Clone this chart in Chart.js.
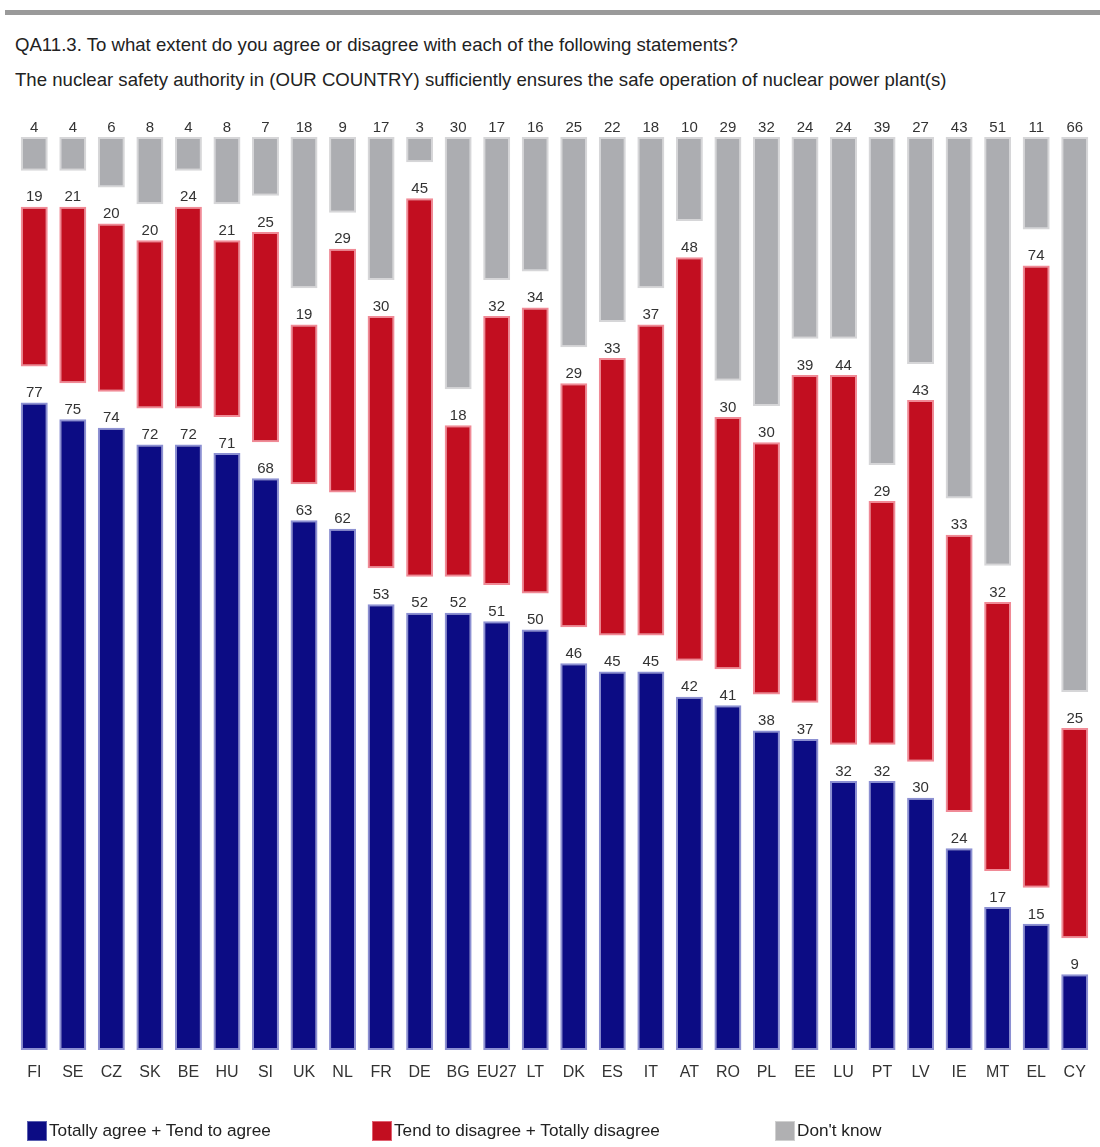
<!DOCTYPE html>
<html>
<head>
<meta charset="utf-8">
<script src="https://cdn.jsdelivr.net/npm/chart.js@4/dist/chart.umd.min.js"></script>
<style>
  html, body { margin: 0; padding: 0; background: #fff; }
  body { width: 1100px; height: 1147px; position: relative; overflow: hidden; font-family: "Liberation Sans", Arial, sans-serif; color: #222; }
  #topbar { position: absolute; left: 5px; top: 10px; width: 1095px; height: 5px; background: #9a9a9a; }
  .title { position: absolute; left: 15px; font-size: 18.6px; white-space: nowrap; line-height: 22px; }
  #t1 { top: 34px; }
  #t2 { top: 69px; }
  #wrap { position: absolute; left: 0; top: 0; width: 1100px; height: 1147px; }
  .leg { position: absolute; top: 1120px; font-size: 17.2px; white-space: nowrap; display: flex; align-items: center; color: #222; }
  .sw { width: 20px; height: 20px; margin-right: 2px; box-sizing: border-box; }
</style>
</head>
<body>
<div id="topbar"></div>
<div class="title" id="t1">QA11.3. To what extent do you agree or disagree with each of the following statements?</div>
<div class="title" id="t2">The nuclear safety authority in (OUR COUNTRY) sufficiently ensures the safe operation of nuclear power plant(s)</div>
<div id="wrap"><canvas id="c" width="1100" height="1147"></canvas></div>
<div class="leg" style="left:27px"><div class="sw" style="background:#0c0c84;border:1px solid #5a5fb0"></div>Totally agree + Tend to agree</div>
<div class="leg" style="left:372px"><div class="sw" style="background:#c20e20;border:1px solid #e06070"></div>Tend to disagree + Totally disagree</div>
<div class="leg" style="left:775px"><div class="sw" style="background:#b0b0b2;border:1px solid #d0d0d0"></div>Don't know</div>
<script>
const countries = ["FI","SE","CZ","SK","BE","HU","SI","UK","NL","FR","DE","BG","EU27","LT","DK","ES","IT","AT","RO","PL","EE","LU","PT","LV","IE","MT","EL","CY"];
const agree    = [77,75,74,72,72,71,68,63,62,53,52,52,51,50,46,45,45,42,41,38,37,32,32,30,24,17,15,9];
const disagree = [19,21,20,20,24,21,25,19,29,30,45,18,32,34,29,33,37,48,30,30,39,44,29,43,33,32,74,25];
const dontKnow = [4,4,6,8,4,8,7,18,9,17,3,30,17,16,25,22,18,10,29,32,24,24,39,27,43,51,11,66];
const seriesNames = ["Totally agree + Tend to agree","Tend to disagree + Totally disagree","Don't know"];

const GAP = 4.29;            // visual gap between segments, in value units
const TOP = 100 + 2 * GAP;   // axis maximum

const blueBars = agree.map(a => [0, a]);
const redBars  = agree.map((a, i) => [a + GAP, a + GAP + disagree[i]]);
const grayBars = dontKnow.map(k => [TOP - k, TOP]);
const rawValues = [agree, disagree, dontKnow];

const labelPlugin = {
  id: 'segLabels',
  afterDatasetsDraw(chart) {
    const ctx = chart.ctx;
    ctx.save();
    ctx.font = '15px "Liberation Sans", Arial, sans-serif';
    ctx.fillStyle = '#333';
    ctx.textAlign = 'center';
    ctx.textBaseline = 'bottom';
    chart.data.datasets.forEach((ds, di) => {
      const meta = chart.getDatasetMeta(di);
      meta.data.forEach((el, i) => {
        const top = Math.min(el.y, el.base);
        ctx.fillText(String(rawValues[di][i]), el.x, top - 2);
      });
    });
    ctx.restore();
  }
};

new Chart(document.getElementById('c'), {
  type: 'bar',
  data: {
    labels: countries,
    datasets: [
      { label: seriesNames[0], data: blueBars, backgroundColor: '#0c0c84', borderColor: '#8c90d2', borderWidth: 2, borderSkipped: false },
      { label: seriesNames[1], data: redBars,  backgroundColor: '#c20e20', borderColor: '#f08a96', borderWidth: 2, borderSkipped: false },
      { label: seriesNames[2], data: grayBars, backgroundColor: '#acadb1', borderColor: '#d6d6d8', borderWidth: 2, borderSkipped: false }
    ]
  },
  options: {
    responsive: false,
    animation: false,
    layout: { padding: { left: 15, right: 6, top: 137, bottom: 47 } },
    plugins: { legend: { display: false }, tooltip: { enabled: false } },
    datasets: { bar: { grouped: false, categoryPercentage: 1.0, barPercentage: 0.70 } },
    scales: {
      x: {
        grid: { display: false, drawTicks: false },
        border: { display: false },
        ticks: { color: '#333', font: { size: 16, family: '"Liberation Sans", Arial, sans-serif' }, padding: 13, maxRotation: 0, autoSkip: false },
        afterFit: s => { s.height = 50; }
      },
      y: { display: false, min: 0, max: TOP }
    }
  },
  plugins: [labelPlugin]
});
</script>
</body>
</html>
